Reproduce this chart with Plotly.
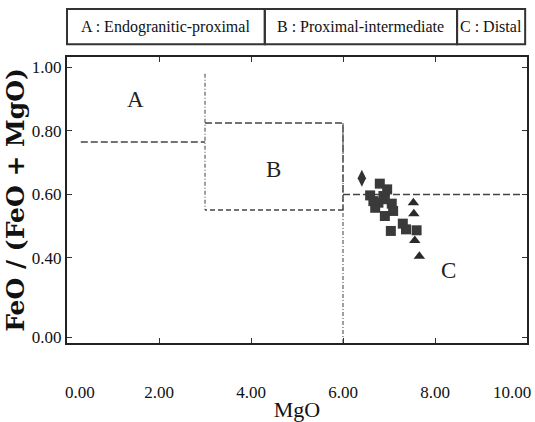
import plotly.graph_objects as go

# ---- data ----
diamond_x = [6.41]
diamond_y = [0.651]

square_x = [6.80, 6.96, 6.88, 6.66, 6.77, 7.06, 6.70, 7.09, 6.91, 7.04, 7.30, 7.37, 7.60, 6.59, 6.91]
square_y = [0.634, 0.616, 0.595, 0.579, 0.574, 0.571, 0.558, 0.548, 0.532, 0.485, 0.508, 0.490, 0.487, 0.597, 0.585]

triangle_x = [7.53, 7.54, 7.56, 7.66]
triangle_y = [0.574, 0.539, 0.455, 0.405]

# region boundaries
a_line_x = [0.30, 3.0]
a_line_y = [0.765, 0.765]
v3_x = [3.0, 3.0]
v3_y = [0.98, 0.551]
b_box_x = [3.0, 6.0, 6.0, 3.0]
b_box_y = [0.825, 0.825, 0.551, 0.551]
v6_x = [6.0, 6.0]
v6_y = [0.825, 0.132]
c_line_x = [6.0, 9.85]
c_line_y = [0.60, 0.60]

region_labels = ["A", "B", "C"]
region_x = [1.48, 4.48, 8.30]
region_y = [0.90, 0.68, 0.36]

legend_texts = ["A : Endogranitic-proximal", "B : Proximal-intermediate", "C : Distal"]

NB = "\u00a0"
x_ticks = [0, 2, 4, 6, 8, 10]
x_ticktext = [NB * 6 + "0.00", "2.00", "4.00", "6.00", "8.00", "10.00" + NB * 7]
y_ticks = [0.15, 0.4, 0.6, 0.8, 1.0]
y_ticktext = ["0.00", "0.40", "0.60", "0.80", "1.00"]

SERIF = "Liberation Serif"
LC = "#444444"

fig = go.Figure()

# boundary lines
fig.add_trace(go.Scatter(x=a_line_x, y=a_line_y, mode="lines",
                         line=dict(color=LC, width=1.6, dash="7px,3px"), hoverinfo="skip"))
fig.add_trace(go.Scatter(x=v3_x, y=v3_y, mode="lines",
                         line=dict(color="#777777", width=1.4, dash="4px,2px,1px,2px"), hoverinfo="skip"))
fig.add_trace(go.Scatter(x=b_box_x[:3], y=b_box_y[:3], mode="lines",
                         line=dict(color=LC, width=1.6, dash="7px,3px"), hoverinfo="skip"))
fig.add_trace(go.Scatter(x=[b_box_x[2], b_box_x[3]], y=[b_box_y[2], b_box_y[3]], mode="lines",
                         line=dict(color=LC, width=1.4, dash="5px,3px"), hoverinfo="skip"))
fig.add_trace(go.Scatter(x=v6_x, y=v6_y, mode="lines",
                         line=dict(color="#777777", width=1.4, dash="4px,2px,1px,2px"), hoverinfo="skip"))
fig.add_trace(go.Scatter(x=c_line_x, y=c_line_y, mode="lines",
                         line=dict(color=LC, width=1.6, dash="7px,3px"), hoverinfo="skip"))

# data markers
fig.add_trace(go.Scatter(x=square_x, y=square_y, mode="markers",
                         marker=dict(symbol="square", size=10, color="#3a3a3a")))
fig.add_trace(go.Scatter(x=triangle_x, y=triangle_y, mode="markers",
                         marker=dict(symbol="triangle-up", size=10, color="#2a2a2a")))
fig.add_trace(go.Scatter(x=diamond_x, y=diamond_y, mode="markers",
                         marker=dict(symbol="diamond-tall", size=12, color="#333333")))

# region labels
for t, xx, yy in zip(region_labels, region_x, region_y):
    fig.add_annotation(x=xx, y=yy, text=t, showarrow=False,
                       font=dict(family=SERIF, size=23, color="#222"))

# legend box on top
cells = [(0.0, 0.430), (0.430, 0.848), (0.848, 0.996)]
for (x0, x1), t in zip(cells, legend_texts):
    fig.add_shape(type="rect", xref="paper", yref="paper", x0=x0, x1=x1, y0=1.045, y1=1.168,
                  line=dict(color="#333", width=2))
    fig.add_annotation(xref="paper", yref="paper", x=(x0 + x1) / 2, y=1.106, text=t,
                       xanchor="center", yanchor="middle",
                       showarrow=False, font=dict(family=SERIF, size=16, color="#111"))

axis_common = dict(showline=True, linecolor="#222", linewidth=2, mirror="ticks",
                   ticks="inside", ticklen=5, tickcolor="#333", tickwidth=1,
                   showgrid=False, zeroline=False, automargin=False,
                   tickfont=dict(family=SERIF, size=17, color="#111"))

fig.update_xaxes(range=[0, 10], tickvals=x_ticks, ticktext=x_ticktext,
                 ticklabelstandoff=33, ticklabeloverflow="allow",
                 title=dict(text="MgO", font=dict(family=SERIF, size=22, color="#111"), standoff=8),
                 **axis_common)
fig.update_yaxes(range=[0.132, 1.033], tickvals=y_ticks, ticktext=y_ticktext,
                 title=dict(text="<b>FeO / (FeO + MgO)</b>",
                            font=dict(family="DejaVu Serif", size=25, color="#111"), standoff=0),
                 **axis_common)

fig.update_layout(width=535, height=422, margin=dict(l=67, r=8, t=57, b=79),
                  plot_bgcolor="white", paper_bgcolor="white", showlegend=False)

fig.write_html("out.html")
